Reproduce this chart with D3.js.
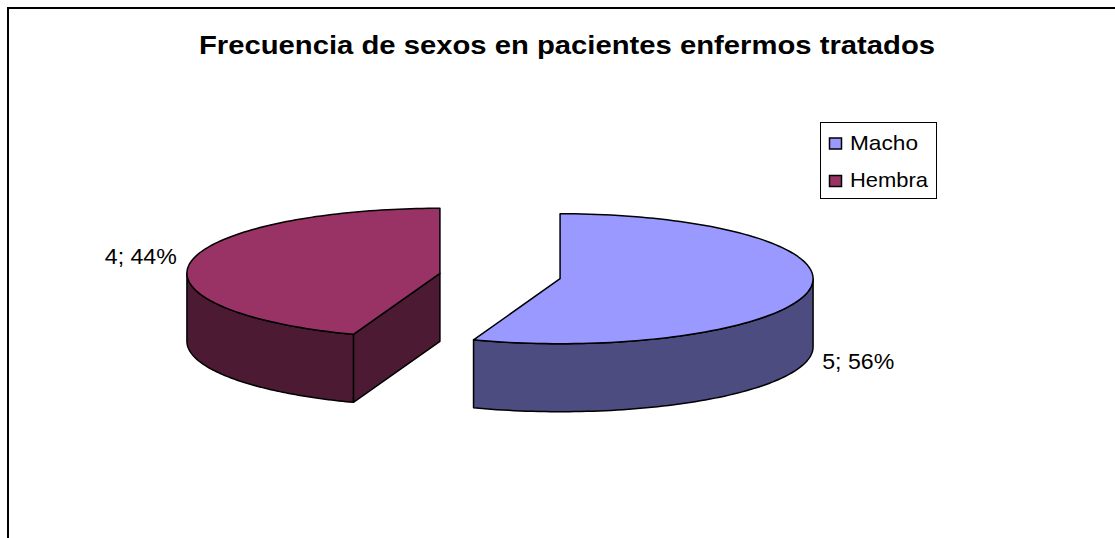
<html>
<head>
    <meta charset="utf-8">
    <title>Frecuencia de sexos</title>
    <script src="https://cdn.jsdelivr.net/npm/d3@7/dist/d3.min.js"></script>
    <style>
        body { margin: 0; background: #fff; }
        text { font-family: "Liberation Sans", Arial, sans-serif; }
    </style>
</head>
<body>
<script>
// data
var categories = ["Macho", "Hembra"];
var values = [5, 4];
var topColors = ["#9999ff", "#993366"];
var sideColors = ["#4c4c80", "#4d1a33"];
var title = "Frecuencia de sexos en pacientes enfermos tratados";

var width = 1115, height = 538;

var svg = d3.select("body").append("svg")
    .attr("width", width)
    .attr("height", height);

// chart frame (right and bottom edges fall outside the window)
svg.append("rect")
    .attr("x", 8).attr("y", 8)
    .attr("width", 1120).attr("height", 540)
    .attr("fill", "none")
    .attr("stroke", "#000")
    .attr("stroke-width", 2);

svg.append("text")
    .attr("x", 567).attr("y", 54)
    .attr("text-anchor", "middle")
    .attr("font-size", 25)
    .attr("font-weight", "bold")
    .attr("textLength", 736)
    .attr("lengthAdjust", "spacingAndGlyphs")
    .text(title);

// pie geometry
var cx = 500, cy = 276, rx = 253, ry = 65, depth = 68, explode = 61;
var total = d3.sum(values);

var pie = d3.pie().sort(null).startAngle(0).endAngle(2 * Math.PI);
var arcs = pie(values);

function pt(ox, oy, a, dz) {
    return [ox + rx * Math.sin(a), oy - ry * Math.cos(a) + (dz || 0)];
}

var line = d3.line();

arcs.forEach(function(d, i) {
    var mid = (d.startAngle + d.endAngle) / 2;
    var ox = cx + explode * Math.sin(mid);
    var oy = cy - explode * (ry / rx) * Math.cos(mid);
    var g = svg.append("g");

    // radial walls that face the viewer
    [d.startAngle, d.endAngle].forEach(function(a, k) {
        var nAng = k === 0 ? a - Math.PI / 2 : a + Math.PI / 2;
        if (-Math.cos(nAng) > 0.01) {
            var p = pt(ox, oy, a);
            g.append("path")
                .attr("d", line([[ox, oy], p, [p[0], p[1] + depth], [ox, oy + depth]]) + "Z")
                .attr("fill", sideColors[i])
                .attr("stroke", "#000").attr("stroke-width", 1.5)
                .attr("stroke-linejoin", "round");
        }
    });

    // outer curved wall, front half only
    var a0 = Math.max(d.startAngle, Math.PI / 2);
    var a1 = Math.min(d.endAngle, 3 * Math.PI / 2);
    if (a1 > a0) {
        var n = 80, topPts = [], botPts = [];
        for (var j = 0; j <= n; j++) {
            var a = a0 + (a1 - a0) * j / n;
            topPts.push(pt(ox, oy, a));
            botPts.push(pt(ox, oy, a, depth));
        }
        g.append("path")
            .attr("d", line(topPts.concat(botPts.reverse())) + "Z")
            .attr("fill", sideColors[i])
            .attr("stroke", "#000").attr("stroke-width", 1.5)
            .attr("stroke-linejoin", "round");
    }

    // top face
    var facePts = [[ox, oy]];
    var m = 120;
    for (var j = 0; j <= m; j++) {
        facePts.push(pt(ox, oy, d.startAngle + (d.endAngle - d.startAngle) * j / m));
    }
    g.append("path")
        .attr("d", line(facePts) + "Z")
        .attr("fill", topColors[i])
        .attr("stroke", "#000").attr("stroke-width", 1.5)
        .attr("stroke-linejoin", "round");

    // data label
    var lp = pt(ox, oy, mid);
    var front = Math.cos(mid) < 0;
    var right = Math.sin(mid) > 0;
    svg.append("text")
        .attr("x", lp[0] + (right ? 13 : -14))
        .attr("y", lp[1] + (front ? depth + 11 : 2))
        .attr("text-anchor", right ? "start" : "end")
        .attr("font-size", 22)
        .attr("textLength", 72)
        .attr("lengthAdjust", "spacingAndGlyphs")
        .text(d.data + "; " + Math.round(d.data / total * 100) + "%");
});

// legend
var legend = svg.append("g");
legend.append("rect")
    .attr("x", 820.5).attr("y", 122.5)
    .attr("width", 116).attr("height", 76)
    .attr("fill", "#fff").attr("stroke", "#000").attr("stroke-width", 1);

var ly = d3.scalePoint().domain(categories).range([143.5, 181]);
var legendWidths = [68, 78];
categories.forEach(function(c, i) {
    legend.append("rect")
        .attr("x", 829.5).attr("y", ly(c) - 5.5)
        .attr("width", 12).attr("height", 11)
        .attr("fill", topColors[i])
        .attr("stroke", "#000").attr("stroke-width", 1.5);
    legend.append("text")
        .attr("x", 850).attr("y", ly(c) + 6)
        .attr("font-size", 21)
        .attr("textLength", legendWidths[i])
        .attr("lengthAdjust", "spacingAndGlyphs")
        .text(c);
});
</script>
</body>
</html>
